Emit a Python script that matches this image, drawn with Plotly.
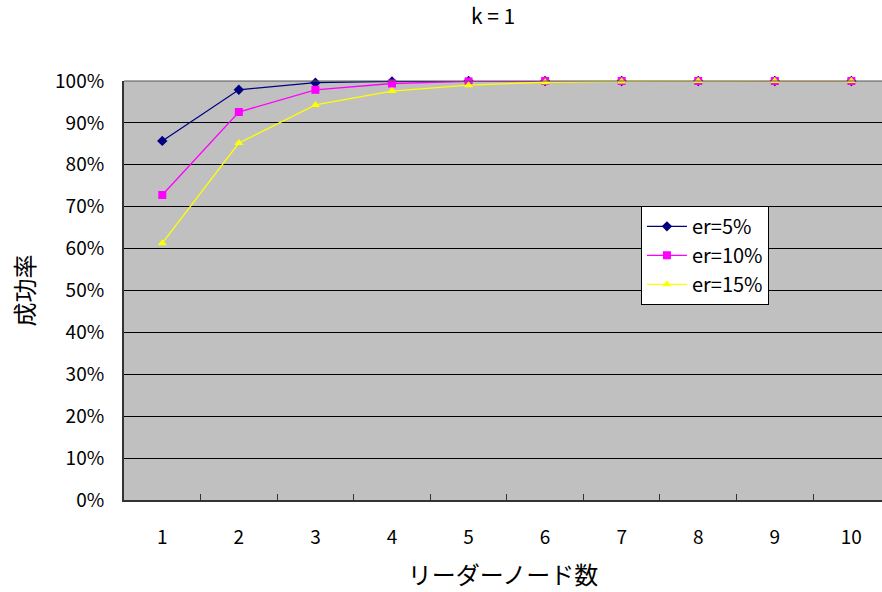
import plotly.graph_objects as go

categories = ["1", "2", "3", "4", "5", "6", "7", "8", "9", "10"]
er5 = [0.857, 0.979, 0.996, 0.999, 1.0, 1.0, 1.0, 1.0, 1.0, 1.0]
er10 = [0.728, 0.926, 0.979, 0.994, 0.999, 1.0, 1.0, 1.0, 1.0, 1.0]
er15 = [0.613, 0.852, 0.943, 0.976, 0.990, 0.997, 0.999, 1.0, 1.0, 1.0]
series_names = ["er=5%", "er=10%", "er=15%"]

font = "Noto Sans CJK JP, Liberation Sans, sans-serif"

fig = go.Figure()
styles = [
    ("#000080", "diamond", 8),
    ("#FF00FF", "square", 8),
    ("#FFFF00", "triangle-up", 8),
]
for name, vals, (col, sym, sz) in zip(series_names, [er5, er10, er15], styles):
    fig.add_trace(go.Scatter(
        x=categories, y=vals, name=name, mode="lines+markers",
        line=dict(color=col, width=1.3),
        marker=dict(symbol=sym, size=sz, color=col, line=dict(width=0)),
        cliponaxis=False,
    ))

fig.update_layout(
    width=882, height=592,
    margin=dict(l=124, r=0, t=81, b=92),
    paper_bgcolor="white",
    plot_bgcolor="#C0C0C0",
    font=dict(family=font, size=19, color="black"),
    title=dict(text="k = 1", x=0.559, xanchor="center", y=0.985, yanchor="top",
               font=dict(size=21, family=font)),
    showlegend=True,
    legend=dict(
        x=0.682, y=0.702, xanchor="left", yanchor="top",
        bgcolor="white", bordercolor="black", borderwidth=1,
        font=dict(size=20, family=font),
        itemwidth=40, tracegroupgap=0,
    ),
    xaxis=dict(
        type="category", tickson="boundaries", ticks="inside", ticklen=6,
        tickcolor="#333", showgrid=False, showline=True, linecolor="#333",
        linewidth=2, range=[-0.5, 9.4],
        title=dict(text="リーダーノード数", font=dict(size=24, family=font), standoff=19),
        tickfont=dict(size=19, family=font),
        ticklabelstandoff=19,
    ),
    yaxis=dict(
        range=[0, 1.0], tickformat=".0%", dtick=0.1,
        showgrid=True, gridcolor="black", gridwidth=1,
        showline=True, linecolor="#333", linewidth=2,
        ticks="", zeroline=False,
        title=dict(text="成功率", font=dict(size=24, family=font), standoff=14),
        tickfont=dict(size=19, family=font),
        ticklabelstandoff=14,
    ),
)
fig.add_shape(type="line", xref="paper", yref="paper", x0=0, x1=1, y0=1, y1=1,
              line=dict(color="#555", width=1))

fig.write_html("out.html")
